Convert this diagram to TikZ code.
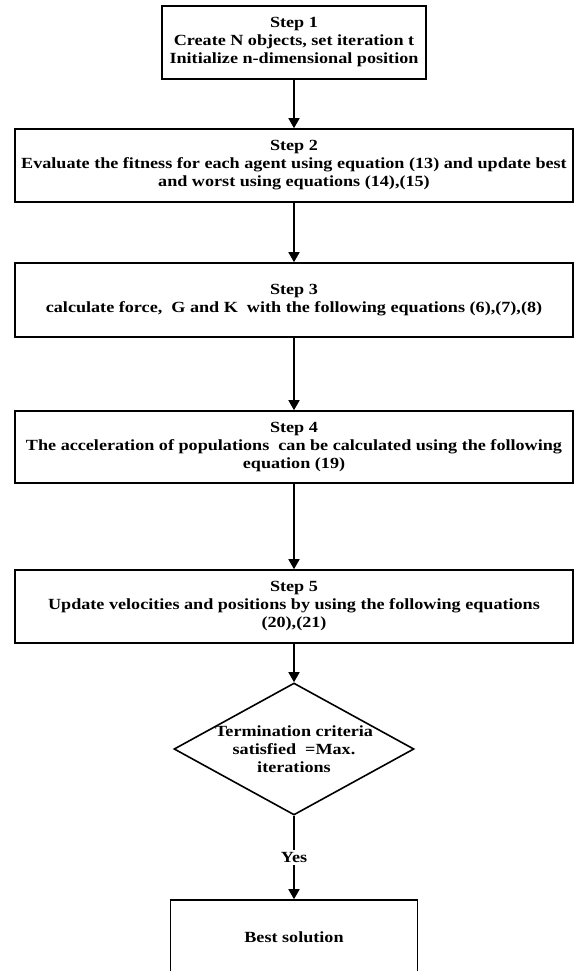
\documentclass[tikz,border=0pt]{standalone}
\usepackage{fontspec}
\newfontfamily\rf{Liberation Serif}[FakeStretch=1.17]
\usetikzlibrary{arrows.meta,shapes.geometric}
\begin{document}
\begin{tikzpicture}[x=1pt,y=-1pt,
  every node/.style={font=\rf\bfseries\fontsize{15.5}{18}\selectfont},
  box/.style={draw=black,line width=1.6pt,inner sep=0pt,align=center,minimum height=73pt},
  wide/.style={box,minimum width=558pt},
  arr/.style={line width=1.6pt,-{Triangle[width=11pt,length=10pt]}},
  ]
\clip (0,0) rectangle (574,971);
\fill[white] (0,0) rectangle (574,971);
\node[box,minimum width=264pt] (s1) at (294,42.5) {Step 1\\Create N objects, set iteration t\\Initialize n-dimensional position};
\node[wide] (s2) at (294,165.5) {Step 2\\Evaluate the fitness for each agent using equation (13) and update best\\and worst using equations (14),(15)};
\node[wide,minimum height=74pt] (s3) at (294,300) {Step 3\\calculate force,\ \ G and K\ \ with the following equations (6),(7),(8)};
\node[wide,minimum height=72pt] (s4) at (294,447) {Step 4\\The acceleration of populations\ \ can be calculated using the following\\equation (19)};
\node[wide] (s5) at (294,606.5) {Step 5\\Update velocities and positions by using the following equations\\(20),(21)};
\node[diamond,draw=black,line width=1.6pt,inner sep=0pt,minimum width=240pt,minimum height=132pt] (d) at (294,749) {};
\node[align=center,inner sep=0pt] (dt) at (d.center) {Termination criteria\\satisfied\ \ =Max.\\iterations};
\node[box,minimum width=247pt,minimum height=75pt] (best) at (294,937.5) {Best solution};
\draw[arr] (s1) -- (s2);
\draw[arr] (s2) -- (s3);
\draw[arr] (s3) -- (s4);
\draw[arr] (s4) -- (s5);
\draw[arr] (s5) -- (d);
\draw[arr] (d) -- node[fill=white,inner sep=2pt] (yes) {Yes} (best);
\end{tikzpicture}
\end{document}
